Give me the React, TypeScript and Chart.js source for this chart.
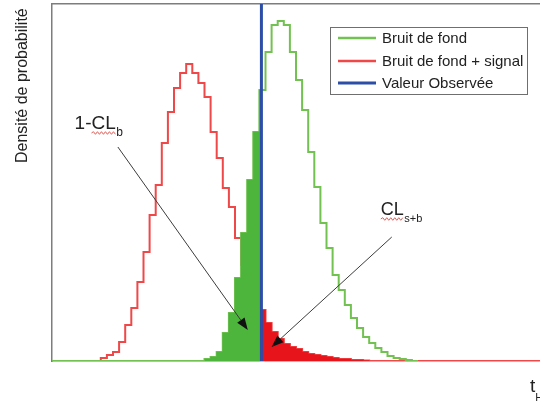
import React, { useEffect, useRef } from "react";
import { Chart, registerables } from "chart.js";

Chart.register(...registerables);

// ---- data (bin index units, 1 unit = 1 histogram bin) ----
const xRange = [0, 80];
const yMax = 357;
const observedValue = 34.33;

const backgroundFirstBin = 25;
const backgroundCounts = [
  2, 4, 9, 28, 48, 83, 128, 181, 229, 271, 309, 336, 340, 336, 309, 281, 251,
  209, 174, 138, 113, 86, 71, 56, 43, 33, 24, 18, 13, 9, 5, 3, 2, 1,
];
const backgroundLastEdge = 60;

const signalFirstBin = 8;
const signalCounts = [
  3, 6, 9, 19, 36, 53, 79, 109, 146, 176, 218, 249, 273, 288, 297, 288, 278,
  264, 229, 203, 173, 154, 123, 96, 75, 60, 51, 38, 29, 22, 17, 14, 12, 9, 7,
  6, 5, 4, 3, 2, 2, 1, 1, 0.5,
];

const legendLabels = ["Bruit de fond", "Bruit de fond + signal", "Valeur Observée"];
const yTitle = "Densité de probabilité";
const labelB = { main: "1-CL", sub: "b", at: [3.7, 232] };
const labelSB = { main: "CL", sub: "s+b", at: [53.9, 146] };
const arrowB = { from: [10.8, 214], to: [32.1, 31] };
const arrowSB = { from: [55.7, 124], to: [36.0, 14] };
const axisLabel = { main: "t", sub: "H" };

const colors = {
  bgLine: "#72c251",
  bgFill: "#4db53c",
  sbLine: "#f04848",
  sbFill: "#e8141c",
  obs: "#2c4ea6",
  axis: "#7d7d7d",
  arrow: "#3c3c3c",
  text: "#222222",
};

function valueAt(first: number, counts: number[], k: number) {
  const i = k - first;
  return i >= 0 && i < counts.length ? counts[i] : 0;
}

function buildOutline(first: number, counts: number[], lastEdge: number) {
  const pts: { x: number; y: number }[] = [];
  for (let k = 0; k < lastEdge; k++) pts.push({ x: k, y: valueAt(first, counts, k) });
  pts.push({ x: lastEdge, y: 0 });
  return pts;
}

function buildLeftFill(first: number, counts: number[], cut: number) {
  const pts: { x: number; y: number }[] = [];
  const lastBin = Math.floor(cut);
  for (let k = first; k <= lastBin; k++) pts.push({ x: k, y: valueAt(first, counts, k) });
  pts.push({ x: cut, y: 0 });
  return pts;
}

function buildRightFill(first: number, counts: number[], cut: number) {
  const pts: { x: number; y: number }[] = [];
  const startBin = Math.floor(cut);
  pts.push({ x: cut, y: valueAt(first, counts, startBin) });
  const end = first + counts.length;
  for (let k = startBin + 1; k < end; k++) pts.push({ x: k, y: valueAt(first, counts, k) });
  pts.push({ x: end, y: 0 });
  return pts;
}

function squiggle(ctx: CanvasRenderingContext2D, x1: number, x2: number, y: number) {
  ctx.save();
  ctx.strokeStyle = "#e0605a";
  ctx.lineWidth = 1;
  ctx.beginPath();
  let up = true;
  ctx.moveTo(x1, y);
  for (let x = x1 + 2; x <= x2; x += 2) {
    ctx.lineTo(x, up ? y - 1.3 : y + 1.3);
    up = !up;
  }
  ctx.stroke();
  ctx.restore();
}

function drawArrow(ctx: CanvasRenderingContext2D, x1: number, y1: number, x2: number, y2: number) {
  const ang = Math.atan2(y2 - y1, x2 - x1);
  const head = 12;
  const half = 4.5;
  const bx = x2 - head * Math.cos(ang);
  const by = y2 - head * Math.sin(ang);
  ctx.save();
  ctx.strokeStyle = colors.arrow;
  ctx.lineWidth = 1;
  ctx.beginPath();
  ctx.moveTo(x1, y1);
  ctx.lineTo(bx, by);
  ctx.stroke();
  ctx.fillStyle = "#111";
  ctx.beginPath();
  ctx.moveTo(x2, y2);
  ctx.lineTo(bx + half * Math.sin(ang), by - half * Math.cos(ang));
  ctx.lineTo(bx - half * Math.sin(ang), by + half * Math.cos(ang));
  ctx.closePath();
  ctx.fill();
  ctx.restore();
}

const FONT = '"Liberation Sans", Arial, Helvetica, sans-serif';

const annotationPlugin = {
  id: "annotations",
  afterDraw(chart: any) {
    const ctx: CanvasRenderingContext2D = chart.ctx;
    const xs = chart.scales.x;
    const ys = chart.scales.y;
    const px = (v: number) => xs.getPixelForValue(v);
    const py = (v: number) => ys.getPixelForValue(v);
    const area = chart.chartArea;

    // arrows
    drawArrow(ctx, px(arrowB.from[0]), py(arrowB.from[1]), px(arrowB.to[0]), py(arrowB.to[1]));
    drawArrow(ctx, px(arrowSB.from[0]), py(arrowSB.from[1]), px(arrowSB.to[0]), py(arrowSB.to[1]));

    // labels with subscripts
    ctx.save();
    ctx.fillStyle = colors.text;
    ctx.textBaseline = "alphabetic";
    ctx.textAlign = "left";
    {
      const x = px(labelB.at[0]);
      const y = py(labelB.at[1]);
      ctx.font = `19px ${FONT}`;
      ctx.fillText(labelB.main, x, y);
      const w = ctx.measureText(labelB.main).width;
      const wCL = ctx.measureText("CL").width;
      squiggle(ctx, x + w - wCL, x + w, y + 4);
      ctx.font = `12px ${FONT}`;
      ctx.fillText(labelB.sub, x + w + 0.5, y + 7);
    }
    {
      const x = px(labelSB.at[0]);
      const y = py(labelSB.at[1]);
      ctx.font = `18px ${FONT}`;
      ctx.fillText(labelSB.main, x, y);
      const w = ctx.measureText(labelSB.main).width;
      squiggle(ctx, x, x + w, y + 4);
      ctx.font = `11px ${FONT}`;
      ctx.fillText(labelSB.sub, x + w + 0.5, y + 7);
    }
    // x axis label (bottom-right, partly cut off)
    ctx.font = `19px ${FONT}`;
    ctx.fillText(axisLabel.main, 530, area.bottom + 31);
    const tw = ctx.measureText(axisLabel.main).width;
    ctx.font = `11px ${FONT}`;
    ctx.fillText(axisLabel.sub, 530 + tw, area.bottom + 40);

    // y title
    ctx.save();
    ctx.font = `16px ${FONT}`;
    ctx.translate(27, area.top + 159);
    ctx.rotate(-Math.PI / 2);
    ctx.fillText(yTitle, 0, 0);
    ctx.restore();

    // legend
    const lx = 330, ly = 27, lw = 197, lh = 67;
    ctx.fillStyle = "#ffffff";
    ctx.fillRect(lx, ly, lw, lh);
    ctx.strokeStyle = "#6f6f6f";
    ctx.lineWidth = 1;
    ctx.strokeRect(lx + 0.5, ly + 0.5, lw, lh);
    const legendColors = [colors.bgLine, colors.sbLine, colors.obs];
    const rows = [38, 61, 83];
    ctx.font = `15px ${FONT}`;
    ctx.textBaseline = "middle";
    legendLabels.forEach((t, i) => {
      ctx.strokeStyle = legendColors[i];
      ctx.lineWidth = i === 2 ? 3 : 2.5;
      ctx.beginPath();
      ctx.moveTo(338, rows[i]);
      ctx.lineTo(376, rows[i]);
      ctx.stroke();
      ctx.fillStyle = colors.text;
      ctx.fillText(t, 382, rows[i] + 1);
    });
    ctx.restore();
  },
};

export default function App() {
  const canvasRef = useRef<HTMLCanvasElement | null>(null);

  useEffect(() => {
    if (!canvasRef.current) return;
    const hiddenAxis = (position: string, horizontal: boolean) => ({
      type: "linear",
      position,
      display: true,
      ticks: { display: false },
      grid: { display: false, drawTicks: false },
      border: { display: true, color: colors.axis, width: 1.5 },
      afterFit: (s: any) => {
        if (horizontal) s.height = 0;
        else s.width = 0;
      },
    });

    const chart = new Chart(canvasRef.current, {
      type: "line",
      data: {
        datasets: [
          {
            label: legendLabels[2],
            data: [
              { x: observedValue, y: 0 },
              { x: observedValue, y: yMax },
            ],
            borderColor: colors.obs,
            borderWidth: 3,
            pointRadius: 0,
            fill: false,
            order: 0,
          },
          {
            label: "CL s+b",
            data: buildRightFill(signalFirstBin, signalCounts, observedValue),
            stepped: "before",
            borderColor: colors.sbFill,
            borderWidth: 0.5,
            backgroundColor: colors.sbFill,
            pointRadius: 0,
            fill: "origin",
            order: 1,
          },
          {
            label: "1-CL b",
            data: buildLeftFill(backgroundFirstBin, backgroundCounts, observedValue),
            stepped: "before",
            borderColor: colors.bgFill,
            borderWidth: 0.5,
            backgroundColor: colors.bgFill,
            pointRadius: 0,
            fill: "origin",
            order: 2,
          },
          {
            label: legendLabels[0],
            data: buildOutline(backgroundFirstBin, backgroundCounts, backgroundLastEdge),
            stepped: "before",
            borderColor: colors.bgLine,
            borderWidth: 2,
            pointRadius: 0,
            fill: false,
            order: 3,
          },
          {
            label: legendLabels[1],
            data: buildOutline(signalFirstBin, signalCounts, xRange[1]),
            stepped: "before",
            borderColor: colors.sbLine,
            borderWidth: 2,
            pointRadius: 0,
            fill: false,
            order: 4,
          },
        ],
      },
      options: {
        animation: false,
        responsive: false,
        devicePixelRatio: 1,
        parsing: false,
        layout: { padding: { left: 52, top: 4, right: 0, bottom: 44 } },
        plugins: { legend: { display: false }, tooltip: { enabled: false } },
        scales: {
          x: { ...hiddenAxis("bottom", true), min: xRange[0], max: xRange[1] },
          x2: { ...hiddenAxis("top", true), min: xRange[0], max: xRange[1] },
          y: { ...hiddenAxis("left", false), min: 0, max: yMax },
        },
      } as any,
      plugins: [annotationPlugin],
    } as any);
    return () => chart.destroy();
  }, []);

  return (
    <div style={{ position: "fixed", left: 0, top: 0, width: 540, height: 405, background: "#fff" }}>
      <canvas ref={canvasRef} width={540} height={405} />
    </div>
  );
}
